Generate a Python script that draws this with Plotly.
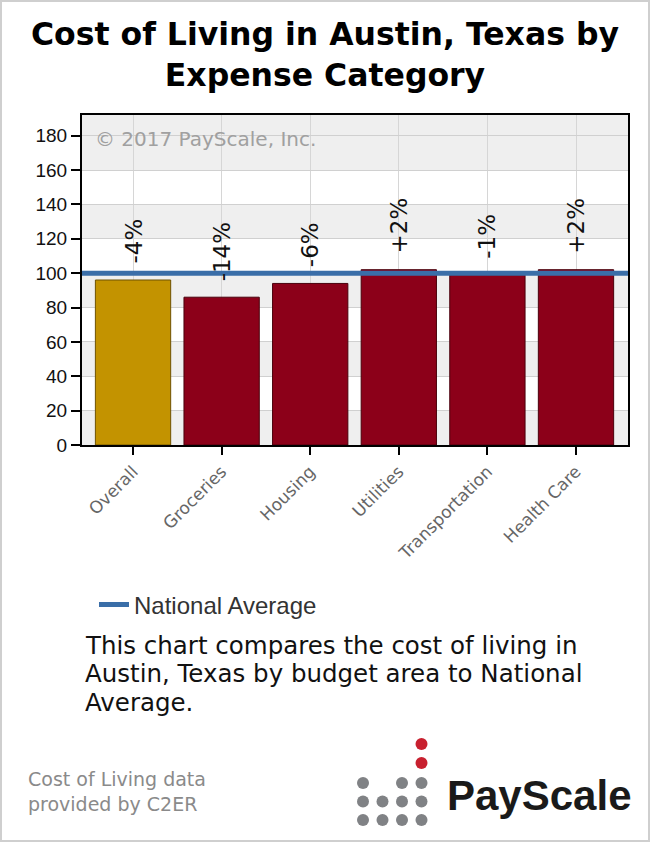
import plotly.graph_objects as go

# Data
CATEGORIES = ["Overall", "Groceries", "Housing", "Utilities", "Transportation", "Health Care"]
INDEX_VALUES = [96, 86, 94, 102, 99, 102]
DIFF_LABELS = ["-4%", "-14%", "-6%", "+2%", "-1%", "+2%"]
NATIONAL_AVERAGE = 100
Y_TICKS = [0, 20, 40, 60, 80, 100, 120, 140, 160, 180]

# Colours
GOLD = "#c39300"
GOLD_EDGE = "#6e5200"
RED = "#8c0019"
RED_EDGE = "#4a000c"
BLUE = "#3a6ea8"

# Plot box in pixels (650 x 843 page)
W, H = 650, 843
PL, PR, PT, PB = 82, 628, 115, 445


def px_x(p):
    return (p - PL) / (PR - PL)


def px_y(p):
    return (PB - p) / (PB - PT)


bar_colors = [GOLD] + [RED] * (len(CATEGORIES) - 1)
edge_colors = [GOLD_EDGE] + [RED_EDGE] * (len(CATEGORIES) - 1)

fig = go.Figure()

fig.add_bar(
    x=CATEGORIES,
    y=INDEX_VALUES,
    width=0.85,
    marker=dict(color=bar_colors, line=dict(color=edge_colors, width=1)),
    showlegend=False,
)

# legend entry for the national average line
fig.add_scatter(
    x=[None], y=[None], mode="lines",
    line=dict(color=BLUE, width=5),
    name="National Average",
)

fig.add_hline(y=NATIONAL_AVERAGE, line=dict(color=BLUE, width=5), layer="above")

# Difference labels above each bar
for cat, val, lab in zip(CATEGORIES, INDEX_VALUES, DIFF_LABELS):
    fig.add_annotation(
        x=cat, y=val, text=lab, textangle=-90, showarrow=False,
        xanchor="center", yanchor="bottom", yshift=14,
        font=dict(family="DejaVu Sans", size=23, color="#111111"),
    )

# Shadow + white plot background, then alternating bands
shapes = [
    dict(type="rect", xref="paper", yref="paper",
         x0=px_x(PL + 6), x1=px_x(PR + 7), y0=px_y(PB + 9), y1=px_y(PT + 6),
         fillcolor="rgba(0,0,0,0.10)", line=dict(width=0), layer="below"),
    dict(type="rect", xref="paper", yref="paper", x0=0, x1=1, y0=0, y1=1,
         fillcolor="white", line=dict(width=0), layer="below"),
    # outer frame of the widget
    dict(type="rect", xref="paper", yref="paper",
         x0=px_x(1), x1=px_x(W - 1), y0=px_y(H - 2), y1=px_y(1),
         line=dict(color="#cfcfcf", width=2), layer="below"),
]
for lo in [0, 40, 80, 120, 160]:
    hi = lo + 20 if lo < 160 else 192
    shapes.append(dict(type="rect", xref="paper", yref="y", x0=0, x1=1, y0=lo, y1=hi,
                       fillcolor="#efefef", line=dict(width=0), layer="below"))

# PayScale logo dots
LOGO_ROWS = ["x.xx", "xxxx", "xxxx"]
for r, row in enumerate(LOGO_ROWS):
    for c, ch in enumerate(row):
        if ch == "x":
            cx, cy = 363 + c * 19.5, 783 + r * 18.5
            shapes.append(dict(type="circle", xref="paper", yref="paper",
                               x0=px_x(cx - 6), x1=px_x(cx + 6), y0=px_y(cy + 6), y1=px_y(cy - 6),
                               fillcolor="#808285", line=dict(width=0)))
for cy in [744, 763]:
    cx = 421.5
    shapes.append(dict(type="circle", xref="paper", yref="paper",
                       x0=px_x(cx - 6), x1=px_x(cx + 6), y0=px_y(cy + 6), y1=px_y(cy - 6),
                       fillcolor="#c8202f", line=dict(width=0)))

fig.update_layout(shapes=shapes)


def note(x, y, text, font, xanchor="left"):
    fig.add_annotation(xref="paper", yref="paper", x=px_x(x), y=px_y(y),
                       xanchor=xanchor, yanchor="middle", text=text,
                       showarrow=False, font=font, align=xanchor if xanchor != "center" else "center")


# Texts around the chart
note(325, 54, "<b>Cost of Living in Austin, Texas by<br>Expense Category</b>",
     dict(family="DejaVu Sans", size=31.5, color="black"), xanchor="center")

note(93, 139, "© 2017 PayScale, Inc.",
     dict(family="DejaVu Sans", size=20, color="#a0a0a0"))

desc_lines = ["This chart compares the cost of living in",
              "Austin, Texas by budget area to National",
              "Average."]
for i, line in enumerate(desc_lines):
    note(83, 645 + i * 28.5, line, dict(family="DejaVu Sans", size=24.5, color="#111111"))

note(26, 791.5, "Cost of Living data<br>provided by C2ER",
     dict(family="DejaVu Sans", size=19, color="#8a8a8a"))

note(445, 795, "<b>PayScale</b>", dict(family="Liberation Sans", size=42, color="#1a1a1a"))

fig.update_layout(
    width=W,
    height=H,
    margin=dict(l=PL, r=W - PR, t=PT, b=H - PB),
    paper_bgcolor="white",
    plot_bgcolor="rgba(0,0,0,0)",
    showlegend=True,
    legend=dict(
        x=px_x(94), y=px_y(605), xanchor="left", yanchor="middle",
        font=dict(family="Liberation Sans", size=24, color="#333333"),
        bgcolor="rgba(0,0,0,0)",
    ),
)

fig.update_xaxes(
    range=[-0.576, 5.587],
    tickangle=-45,
    ticks="outside", ticklen=8, tickwidth=2, tickcolor="black",
    tickfont=dict(family="DejaVu Sans", size=17, color="#666666"),
    showgrid=True, gridcolor="#d6d6d6", gridwidth=1,
    showline=True, linecolor="black", linewidth=2, mirror=True,
)
fig.update_yaxes(
    range=[0, 192],
    tickvals=Y_TICKS,
    ticks="outside", ticklen=9, tickwidth=2, tickcolor="black",
    tickfont=dict(family="Liberation Sans", size=19, color="#111111"),
    showgrid=True, gridcolor="#d0d0d0", gridwidth=1,
    showline=True, linecolor="black", linewidth=2, mirror=True,
    zeroline=False,
)

# the page's default body margin would push the figure 8px off
fig.write_html("out.html", config={"displayModeBar": False},
               post_script="document.body.style.margin = '0';")
